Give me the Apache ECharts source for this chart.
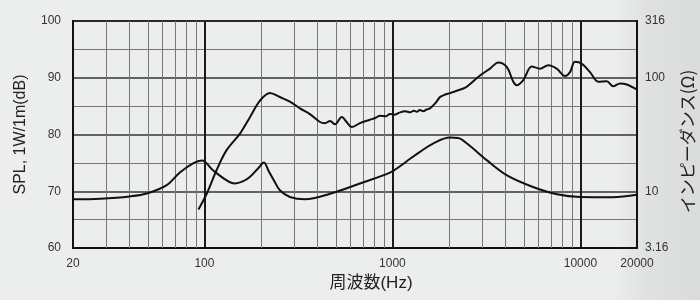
<!DOCTYPE html>
<html>
<head>
<meta charset="utf-8">
<script src="https://cdn.jsdelivr.net/npm/echarts@6/dist/echarts.min.js"></script>
<style>html,body{margin:0;padding:0;background:#eceeee}#c{width:700px;height:300px}</style>
</head>
<body>
<div id="c"></div>
<script>
// SPL frequency response [Hz, dB]
const splData = [
  [93, 66.8], [103, 69.6], [116, 73.7], [131, 77.2], [155, 80.2], [175, 83.1],
  [198, 86.0], [223, 87.3], [252, 86.6], [285, 85.8], [322, 84.6], [364, 83.6],
  [412, 82.2], [438, 82.0], [466, 82.4], [495, 81.8], [538, 83.1], [571, 82.2],
  [607, 81.3], [672, 82.0], [760, 82.6], [810, 82.9], [859, 83.3], [920, 83.2],
  [971, 83.6], [1030, 83.5], [1097, 83.9], [1170, 84.1], [1242, 83.9], [1300, 84.2],
  [1347, 84.0], [1400, 84.3], [1460, 84.1], [1520, 84.4], [1584, 84.6], [1700, 85.6],
  [1792, 86.6], [1866, 86.9], [2024, 87.3], [2109, 87.5], [2384, 88.1], [2484, 88.4],
  [2924, 90.4], [3305, 91.6], [3658, 92.7], [4055, 91.9], [4396, 89.3], [4582, 88.7],
  [4970, 89.6], [5508, 92.0], [6096, 91.6], [6750, 92.2], [7482, 91.6], [8282, 90.3],
  [8804, 91.0], [9360, 92.8], [10158, 92.5], [11246, 91.0], [12450, 89.3], [13800, 89.4],
  [14958, 88.5], [16240, 89.0], [17632, 88.8], [20000, 87.9]
];
// Impedance [Hz, ohm]
const impData = [
  [20, 8.5], [28, 8.6], [40, 9.0], [50, 9.6], [63, 11.3], [74, 14.6], [87, 17.6],
  [97, 18.6], [111, 15.3], [131, 12.5], [145, 11.7], [160, 12.2], [175, 13.4],
  [195, 16.2], [207, 17.9], [220, 15.0], [236, 12.2], [252, 10.2], [285, 8.9],
  [343, 8.5], [466, 9.5], [672, 11.7], [971, 14.6], [1097, 16.6], [1242, 19.3],
  [1402, 22.2], [1644, 26.3], [2024, 29.7], [2233, 29.5], [2494, 26.3], [3186, 18.7],
  [4070, 13.8], [5596, 10.9], [7504, 9.4], [9952, 8.9], [14900, 8.85], [20000, 9.3]
];
// Axis tick values
const freqMin = 20, freqMax = 20000;
const splTicks = [60, 70, 80, 90, 100];
const impTickLabels = ['3.16', '10', '100', '316'];
const minorFreqTicks = [30, 40, 50, 60, 70, 80, 90, 200, 300, 400, 500, 600, 700, 800, 900,
  2000, 3000, 4000, 5000, 6000, 7000, 8000, 9000];

const chart = echarts.init(document.getElementById('c'), null, {renderer: 'canvas'});
const labelFont = {fontFamily: 'Liberation Sans, Arial, sans-serif', fontSize: 12, color: '#333'};
const nameFont = {fontFamily: 'Liberation Sans, "Noto Sans CJK JP", sans-serif', color: '#222'};

chart.setOption({
  backgroundColor: '#eceeee',
  animation: false,
  graphic: [{
    type: 'rect', z: -10, silent: true,
    shape: {x: 615, y: 0, width: 85, height: 300},
    style: {fill: new echarts.graphic.LinearGradient(0, 0, 1, 0, [
      {offset: 0, color: 'rgba(0,0,0,0)'}, {offset: 0.35, color: 'rgba(0,0,0,0.05)'},
      {offset: 1, color: 'rgba(0,0,0,0.08)'}])}
  }],
  grid: {left: 73, right: 63, top: 21, bottom: 52, containLabel: false, outerBoundsMode: 'none',
    show: true, borderColor: '#111', borderWidth: 2, backgroundColor: 'transparent'},
  xAxis: {
    type: 'log', logBase: 10, min: freqMin, max: freqMax,
    name: '周波数(Hz)', nameLocation: 'middle', nameGap: 27,
    nameTextStyle: Object.assign({}, nameFont, {fontSize: 17, padding: [0, 0, 0, 32]}),
    axisLine: {show: true, lineStyle: {color: '#111', width: 2}},
    axisTick: {show: false},
    axisLabel: Object.assign({}, labelFont, {margin: 10, formatter: v => String(Math.round(v))}),
    splitLine: {show: true, lineStyle: {color: '#1a1a1a', width: 2}}
  },
  yAxis: [{
    type: 'value', min: splTicks[0], max: splTicks[splTicks.length - 1], interval: 10,
    name: 'SPL, 1W/1m(dB)', nameLocation: 'middle', nameGap: 44, nameRotate: 90,
    nameTextStyle: Object.assign({}, nameFont, {fontSize: 16}),
    axisLine: {show: true, lineStyle: {color: '#111', width: 2}},
    axisTick: {show: false},
    axisLabel: Object.assign({}, labelFont, {margin: 12}),
    splitLine: {show: true, lineStyle: {color: '#333', width: 1.5}},
    minorTick: {show: false, splitNumber: 2},
    minorSplitLine: {show: true, lineStyle: {color: '#777', width: 1}}
  }, {
    type: 'log', logBase: 10, min: 3.16, max: 316, position: 'right',
    name: 'インピーダンス(Ω)', nameLocation: 'middle', nameGap: 40, nameRotate: 90,
    nameTextStyle: Object.assign({}, nameFont, {fontSize: 17, fontFamily: '"Noto Sans CJK JP", sans-serif', padding: [0, 14, 0, 0]}),
    axisLine: {show: true, lineStyle: {color: '#111', width: 2}},
    axisTick: {show: false},
    axisLabel: Object.assign({}, labelFont, {margin: 8, formatter: v => {
      if (v < 5) return impTickLabels[0];
      if (v < 50) return impTickLabels[1];
      if (v < 200) return impTickLabels[2];
      return impTickLabels[3];
    }}),
    splitLine: {show: false}
  }],
  series: [{
    type: 'line', name: 'SPL', data: splData, xAxisIndex: 0, yAxisIndex: 0,
    showSymbol: false, smooth: 0.35, z: 3,
    lineStyle: {color: '#111', width: 2},
    markLine: {
      silent: true, symbol: 'none', z: 1, label: {show: false},
      lineStyle: {color: '#777', width: 1, type: 'solid'},
      data: minorFreqTicks.map(f => ({xAxis: f}))
    }
  }, {
    type: 'line', name: 'Impedance', data: impData, xAxisIndex: 0, yAxisIndex: 1,
    showSymbol: false, smooth: 0.35, z: 3,
    lineStyle: {color: '#111', width: 2}
  }]
});
</script>
</body>
</html>
